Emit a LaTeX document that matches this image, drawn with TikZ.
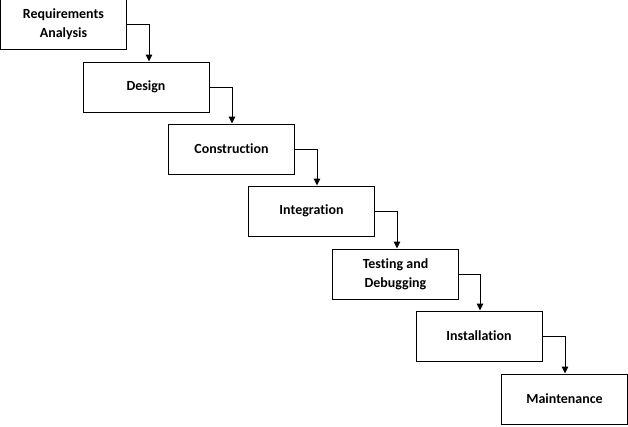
\documentclass[tikz,border=0pt]{standalone}
\usepackage{fontspec}
\setmainfont{Carlito}[Ligatures=NoCommon]
\usetikzlibrary{arrows.meta}
\begin{document}
\begin{tikzpicture}[x=1bp,y=-1bp,
  stage/.style={draw=black, line width=1bp, minimum width=126bp, minimum height=50bp,
    inner sep=0pt, align=center, font=\bfseries\fontsize{14}{19}\selectfont},
  flow/.style={draw=black, line width=1bp, -{Triangle[length=7bp,width=6.5bp]}}]
\useasboundingbox (0,0) rectangle (628,426);
\node[stage] (req) at (63.5,24.5) {Requirements\\Analysis};
\node[stage] (des) at (146,87) {Design};
\node[stage] (con) at (231.5,149) {Construction};
\node[stage] (int) at (311.5,211) {Integration};
\node[stage] (tes) at (395.5,274) {Testing and\\Debugging};
\node[stage] (ins) at (479,336) {Installation};
\node[stage] (mai) at (564.5,399) {Maintenance};
\draw[flow] (req.east) -| (149,0 |- des.north);
\draw[flow] (des.east) -| ([xshift=86bp]des.center |- con.north);
\draw[flow] (con.east) -| ([xshift=85.5bp]con.center |- int.north);
\draw[flow] (int.east) -| ([xshift=85.5bp]int.center |- tes.north);
\draw[flow] (tes.east) -| ([xshift=84.5bp]tes.center |- ins.north);
\draw[flow] (ins.east) -| ([xshift=86bp]ins.center |- mai.north);
\end{tikzpicture}
\end{document}
